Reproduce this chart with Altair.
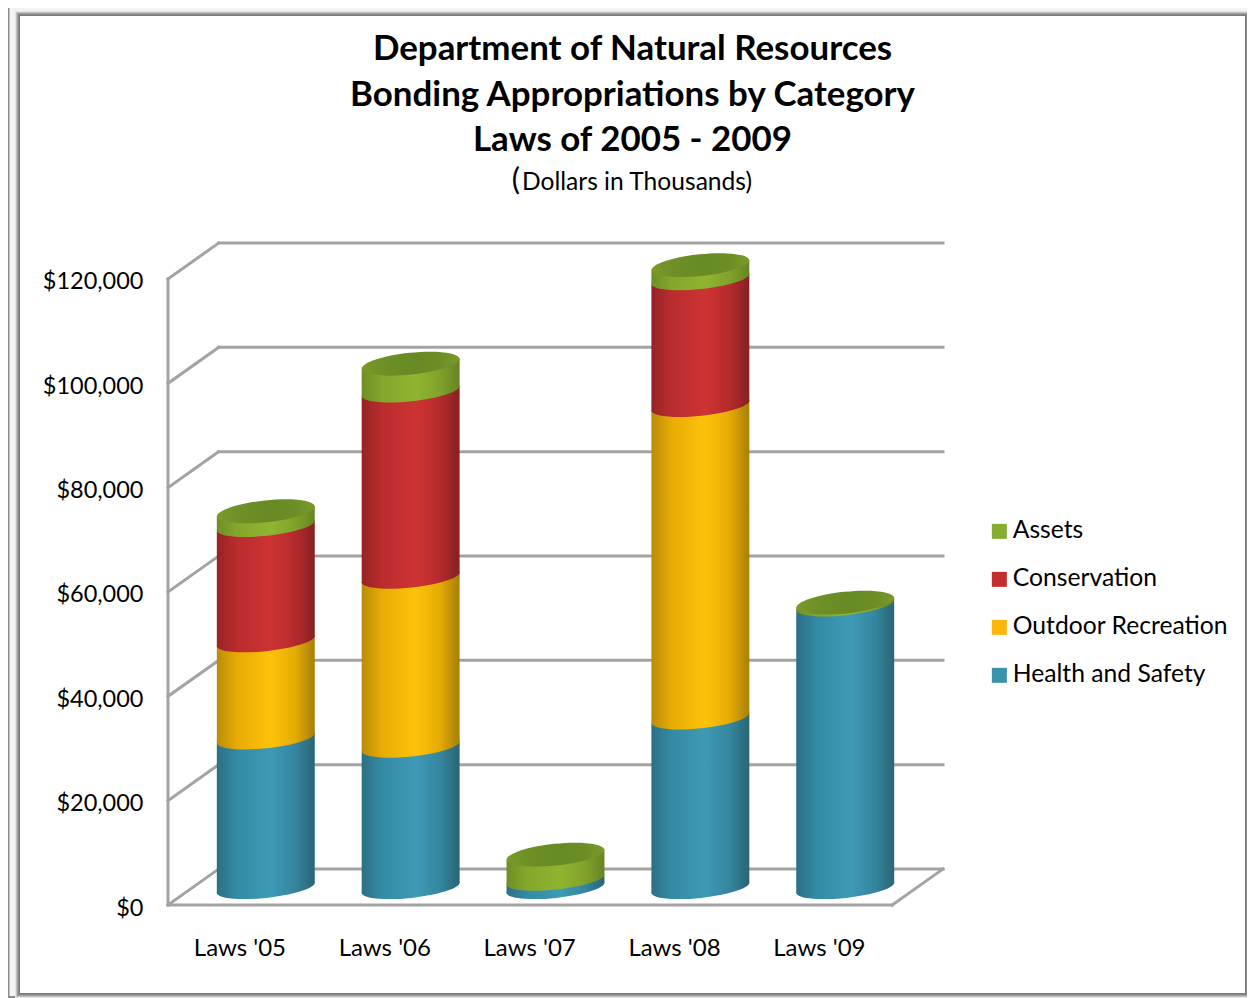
import altair as alt
import pandas as pd

categories = ["Laws '05", "Laws '06", "Laws '07", "Laws '08", "Laws '09"]
health = [28700, 27100, 1600, 32500, 54200]
outdoor = [18600, 32400, 0, 59900, 0]
conservation = [22100, 35700, 0, 24300, 0]
assets = [2800, 5300, 4800, 2700, 500]
series_names = ["Health and Safety", "Outdoor Recreation", "Conservation", "Assets"]
legend_order = ["Assets", "Conservation", "Outdoor Recreation", "Health and Safety"]
legend_colors = ["#85ad30", "#c42d2d", "#ffb60a", "#3b92ab"]
ticks = [0, 20000, 40000, 60000, 80000, 100000, 120000]

# 3-D projection, in scale units
DX, DY = 0.35, 6900
BASE = 3260
HALF = 0.338
TILT = 980
Y_TOP = 120000 + DY
X_END = 5 + DX
UNIT_PX = 775 / X_END

x_scale = alt.Scale(domain=[0, X_END], nice=False, zero=False)
y_scale = alt.Scale(domain=[0, Y_TOP], nice=False, zero=False)
X = alt.X("x:Q", scale=x_scale, title=None)
Y = alt.Y("y:Q", scale=y_scale, title=None)
X2 = alt.X2("x2:Q")
Y2 = alt.Y2("y2:Q")

rows, body = [], []
for i, cat in enumerate(categories):
    lo = 0
    for name, vals in zip(series_names, [health, outdoor, conservation, assets]):
        v = vals[i]
        if v > 0:
            c = i + 0.5 + DX / 2
            rows.append(dict(cat=cat, series=name, x=c - HALF, x2=c + HALF, xc=c,
                             y=lo + BASE, y2=lo + v + BASE))
            body.append(dict(cat=cat, series=name, x=c - HALF, y=lo + BASE - TILT, y2=lo + v + BASE - TILT))
            body.append(dict(cat=cat, series=name, x=c + HALF, y=lo + BASE + TILT, y2=lo + v + BASE + TILT))
        lo += v
seg = pd.DataFrame(rows)
bodies = pd.DataFrame(body)
tops = seg[seg.series == "Assets"].copy()

# walls
lines = []
for t in ticks:
    lines.append(dict(x=DX, x2=X_END, y=t + DY, y2=t + DY))
    lines.append(dict(x=0, x2=DX, y=t, y2=t + DY))
lines.append(dict(x=0, x2=0, y=0, y2=120000))
lines.append(dict(x=0, x2=5, y=0, y2=0))
lines.append(dict(x=5, x2=X_END, y=0, y2=DY))
wall = pd.DataFrame(lines)

one = pd.DataFrame({"a": [1]})


def band(x0, x1, y0, y1, fill):
    return alt.Chart(one).mark_rect(fill=fill, strokeWidth=0).encode(
        x=alt.value(x0), x2=alt.value(x1), y=alt.value(y0), y2=alt.value(y1))


# bevelled frame, in plot-relative pixels (plot origin is at page 168,243)
L, T, R, B = 20 - 168, 16 - 243, 1245 - 168, 993 - 243
frame = []
frame.append(band(8 - 168, 1247 - 168, 8 - 243, 998 - 243, "#8c8c8c"))
frame.append(band(9.5 - 168, 1247 - 168, 8 - 243, 996 - 243, "#f4f4f4"))
for inset, col in [(5, "#e4e4e4"), (4, "#c4c4c4"), (3, "#a0a0a0"), (2, "#8a8a8a"), (1, "#7c7c7c"), (0, "#ffffff")]:
    frame.append(band(L - inset, R + inset, T - inset, B + inset, col))


def grad(stops):
    offs = [0, 0.2, 0.55, 0.8, 1]
    return alt.Gradient(gradient="linear", x1=0, x2=1, y1=0, y2=0,
                        stops=[alt.GradientStop(offset=o, color=c) for o, c in zip(offs, stops)])


grads = {
    "Health and Safety": grad(["#2c6f86", "#348aa3", "#3d9ab6", "#35869f", "#2a6475"]),
    "Outdoor Recreation": grad(["#b98c08", "#e6ab05", "#ffc20a", "#e5ab05", "#a67e0a"]),
    "Conservation": grad(["#962326", "#b92c2e", "#ce3333", "#b42b2d", "#862022"]),
    "Assets": grad(["#6e8f26", "#83a62c", "#8fb530", "#80a22b", "#678423"]),
}
top_fill = grad(["#7b9c2a", "#6e9026", "#688a25", "#6c8e26", "#7a9a2a"])

# tilted half ellipse: the front edge under a cylinder segment (with 1px overlap into the body)
HALF_SHAPE = "M-1,0.085 L-1,0.105 A1.006,0.21,-6,0,0,1,-0.105 L1,-0.125 Z"
FULL_SHAPE = "M-1,0.105 A1.006,0.23,-6,0,0,1,-0.105 A1.006,0.23,-6,0,0,-1,0.105 Z"
SIZE = (2 * HALF * UNIT_PX) ** 2

grid = alt.Chart(wall).mark_rule(color="#a3a3a3", strokeWidth=3, strokeCap="square").encode(x=X, x2=X2, y=Y, y2=Y2)

# zero-width rects: carry the axes and the legend, the shaded cylinders are drawn below
flat = alt.Chart(seg).mark_rect(strokeWidth=0).encode(
    x=alt.X("xc:Q", scale=x_scale, title=None,
            axis=alt.Axis(values=[0.5, 1.5, 2.5, 3.5, 4.5], domain=False, ticks=False, grid=False,
                          labelFont="Lato", labelFontSize=24, labelColor="black", labelPadding=31,
                          labelOffset=-1,
                          labelExpr="['" + "','".join(c.replace("'", "\\'") for c in categories) + "'][floor(datum.value)]",
                          zindex=1)),
    x2=alt.X2("xc:Q"),
    y=alt.Y("y:Q", scale=y_scale, title=None,
            axis=alt.Axis(values=ticks, format="$,.0f", domain=False, ticks=False, grid=False,
                          labelFont="Lato", labelFontSize=23.5, labelColor="black", labelPadding=25,
                          labelOffset=3, zindex=1)),
    y2=Y2,
    color=alt.Color("series:N", scale=alt.Scale(domain=legend_order, range=legend_colors),
                    legend=alt.Legend(title=None, orient="none", legendX=819, legendY=276,
                                      symbolType="square", symbolSize=225, symbolStrokeWidth=0, symbolOpacity=1,
                                      labelFont="Lato", labelFontSize=24.7, labelColor="black",
                                      labelOffset=1, rowPadding=22, labelLimit=400)),
)

layers = frame + [grid, flat]
for name in series_names:
    sub = seg[seg.series == name]
    sub_b = bodies[bodies.series == name]
    layers.append(alt.Chart(sub).mark_point(shape=HALF_SHAPE, filled=True, color=grads[name], opacity=1,
                                            size=SIZE, strokeWidth=0).encode(
        x=alt.X("xc:Q", scale=x_scale, title=None), y=Y))
    layers.append(alt.Chart(sub_b).mark_area(color=grads[name], opacity=1, interpolate="linear").encode(
        x=X, y=Y, y2=Y2, detail="cat:N"))

layers.append(alt.Chart(tops).mark_point(shape=FULL_SHAPE, filled=True, color=top_fill, opacity=1,
                                         size=SIZE, strokeWidth=0).encode(
    x=alt.X("xc:Q", scale=x_scale, title=None), y=alt.Y("y2:Q", scale=y_scale, title=None)))

# subtitle: the opening parenthesis is set larger than the rest in the reference
layers.append(alt.Chart(one).mark_text(text="(", font="Lato", fontSize=31, color="black", align="center",
                                       baseline="middle").encode(x=alt.value(516 - 168), y=alt.value(181 - 243)))
layers.append(alt.Chart(one).mark_text(text="Dollars in Thousands)", font="Lato", fontSize=24.6, color="black",
                                       align="center", baseline="middle").encode(
    x=alt.value(637 - 168), y=alt.value(183 - 243)))

chart = alt.layer(*layers).properties(
    width=775, height=662,
    autosize=alt.AutoSizeParams(type="none"),
    padding={"left": 160, "top": 235, "right": 304, "bottom": 93},
    title=alt.TitleParams(
        text=["Department of Natural Resources", "Bonding Appropriations by Category", "Laws of 2005 - 2009"],
        anchor="middle", frame="group", dx=77, offset=-150,
        font="Lato", fontSize=34.9, fontWeight="bold", color="black", lineHeight=45.5,
    ),
).configure_view(stroke=None)

chart.save("out.html", embed_options={"renderer": "svg", "actions": False})
